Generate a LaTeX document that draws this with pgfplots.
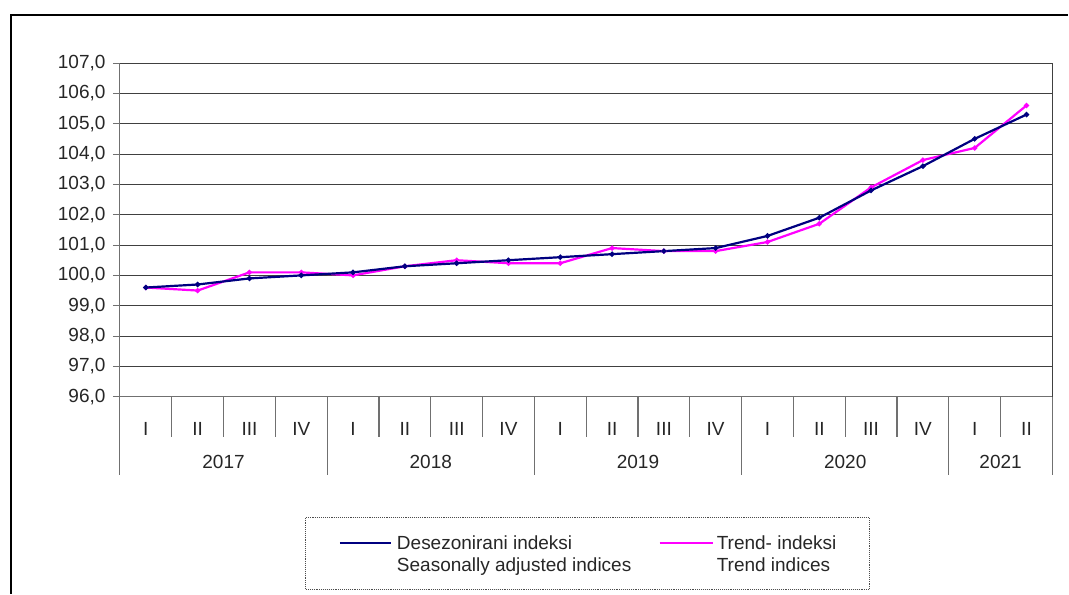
\documentclass[border=0pt]{standalone}
\usepackage{pgfplots}
\pgfplotsset{compat=1.18}
\usepackage{fontspec}
\setmainfont{Liberation Sans}
\definecolor{navyc}{HTML}{000080}
\definecolor{magc}{HTML}{FF00FF}
\definecolor{gridc}{HTML}{404040}
\definecolor{axc}{HTML}{707070}
\begin{document}
\begin{tikzpicture}[x=1pt,y=1pt]
\path (0,0) rectangle (1069,594);
\draw[black, line width=1.2pt] (11,0) -- (11,579) -- (1069,579);
\begin{axis}[
  at={(120pt,197pt)}, anchor=south west,
  width=933pt, height=334pt, scale only axis,
  xmin=-0.5, xmax=17.5, ymin=96, ymax=107,
  ytick={96,97,...,107},
  xtick={0,...,17},
  xticklabels={I,II,III,IV,I,II,III,IV,I,II,III,IV,I,II,III,IV,I,II},
  xtick style={draw=none},
  ytick style={draw=axc, line width=0.9pt},
  tick align=outside, major tick length=7pt,
  ymajorgrids, grid style={gridc, line width=0.9pt},
  axis line style={axc, line width=1.1pt},
  axis x line*=bottom, axis y line*=left,
  clip=false,
  font=\fontsize{19}{22}\selectfont,
  ticklabel style={font=\fontsize{19}{22}\selectfont, text=black!85},
  /pgf/number format/.cd, fixed, fixed zerofill, precision=1, use comma, assume math mode=true,
  /pgfplots/.cd,
  yticklabel style={xshift=-4pt},
  xticklabel style={anchor=base, yshift=-32pt},
]
\draw[gridc, line width=0.9pt] (axis cs:17.5,96) -- (axis cs:17.5,107);
\pgfplotsinvokeforeach{0.5,1.5,2.5,4.5,5.5,6.5,8.5,9.5,10.5,12.5,13.5,14.5,16.5}{
  \draw[axc, line width=1.1pt] (axis cs:#1,96) -- ++(0pt,-40pt);
}
\pgfplotsinvokeforeach{-0.5,3.5,7.5,11.5,15.5,17.5}{
  \draw[axc, line width=1.1pt] (axis cs:#1,96) -- ++(0pt,-78pt);
}
\node[anchor=base, text=black!85, yshift=-72pt] at (axis cs:1.5,96) {2017};
\node[anchor=base, text=black!85, yshift=-72pt] at (axis cs:5.5,96) {2018};
\node[anchor=base, text=black!85, yshift=-72pt] at (axis cs:9.5,96) {2019};
\node[anchor=base, text=black!85, yshift=-72pt] at (axis cs:13.5,96) {2020};
\node[anchor=base, text=black!85, yshift=-72pt] at (axis cs:16.5,96) {2021};
\addplot[magc, line width=2.2pt, mark=*, mark size=1.3pt] coordinates {
(0,99.6) (1,99.5) (2,100.1) (3,100.1) (4,100.0) (5,100.3) (6,100.5) (7,100.4)
(8,100.4) (9,100.9) (10,100.8) (11,100.8) (12,101.1) (13,101.7) (14,102.9) (15,103.8)
(16,104.2) (17,105.6)};
\addplot[navyc, line width=2.2pt, mark=*, mark size=1.4pt] coordinates {
(0,99.6) (1,99.7) (2,99.9) (3,100.0) (4,100.1) (5,100.3) (6,100.4) (7,100.5)
(8,100.6) (9,100.7) (10,100.8) (11,100.9) (12,101.3) (13,101.9) (14,102.8) (15,103.6)
(16,104.5) (17,105.3)};
\end{axis}
\draw[black!70, densely dotted, line width=0.9pt] (306,76) rectangle (870,4);
\draw[navyc, line width=2.2pt] (340,51) -- (391,51);
\draw[magc, line width=2.2pt] (660,51) -- (713,51);
\begin{scope}[font=\fontsize{19}{22}\selectfont]
\node[anchor=base west, inner sep=0, text=black!85] at (397,44) {Desezonirani indeksi};
\node[anchor=base west, inner sep=0, text=black!85] at (397,22) {Seasonally adjusted indices};
\node[anchor=base west, inner sep=0, text=black!85] at (717,44) {Trend- indeksi};
\node[anchor=base west, inner sep=0, text=black!85] at (717,22) {Trend indices};
\end{scope}
\end{tikzpicture}
\end{document}
